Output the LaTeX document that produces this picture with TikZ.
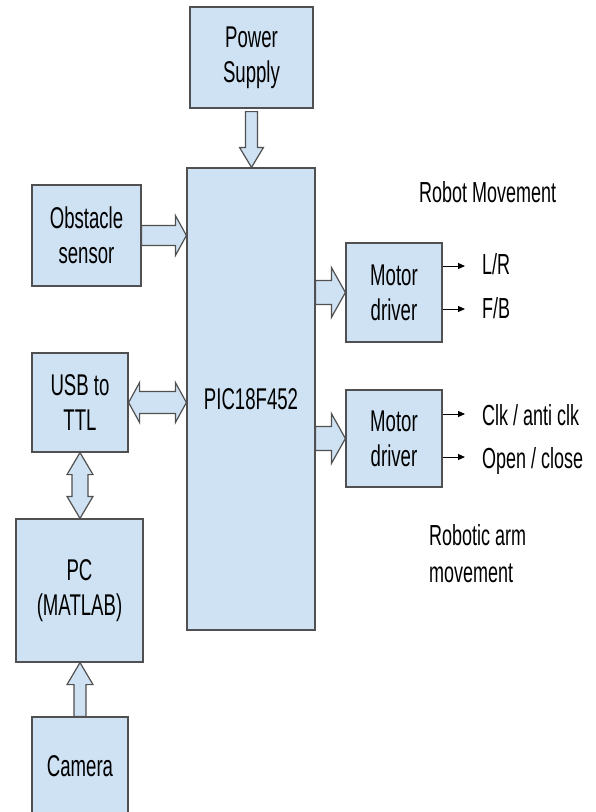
\documentclass[tikz,border=0pt]{standalone}
\usepackage{fontspec}
\setmainfont{Liberation Sans}[FakeStretch=0.62]
\usetikzlibrary{calc,arrows.meta}
\definecolor{boxfill}{HTML}{CFE2F3}
\definecolor{boxline}{HTML}{505050}
\tikzset{
  blockbox/.style={draw=boxline, fill=boxfill, line width=1.2pt, inner sep=0pt,
    align=center, font=\fontsize{30}{35}\selectfont},
  blockarrow/.style={draw=boxline, fill=boxfill, line width=1.2pt, line join=miter},
  lbl/.style={font=\fontsize{29}{37}\selectfont, inner sep=0pt, anchor=base west},
  thinarrow/.style={draw=black, line width=1pt, -{Triangle[length=7pt,width=6pt]}},
}
% right-pointing block arrow: start, end, shaft half, head half, head length
\newcommand\arrowR[5]{\draw[blockarrow] let \p1=#1, \p2=#2 in
  (\x1,\y1+#3) -- (\x2-#5,\y1+#3) -- (\x2-#5,\y1+#4) -- (\x2,\y1)
  -- (\x2-#5,\y1-#4) -- (\x2-#5,\y1-#3) -- (\x1,\y1-#3) -- cycle;}
% double horizontal block arrow
\newcommand\arrowLR[5]{\draw[blockarrow] let \p1=#1, \p2=#2 in
  (\x1,\y1) -- (\x1+#5,\y1+#4) -- (\x1+#5,\y1+#3) -- (\x2-#5,\y1+#3) -- (\x2-#5,\y1+#4)
  -- (\x2,\y1) -- (\x2-#5,\y1-#4) -- (\x2-#5,\y1-#3) -- (\x1+#5,\y1-#3) -- (\x1+#5,\y1-#4) -- cycle;}
% vertical block arrow, tip at end; #5 signed offset of head base from tip
\newcommand\arrowV[5]{\draw[blockarrow] let \p1=#1, \p2=#2 in
  (\x1+#3,\y1) -- (\x1+#3,\y2+#5) -- (\x1+#4,\y2+#5) -- (\x1,\y2)
  -- (\x1-#4,\y2+#5) -- (\x1-#3,\y2+#5) -- (\x1-#3,\y1) -- cycle;}
% double vertical block arrow, start above end
\newcommand\arrowUD[5]{\draw[blockarrow] let \p1=#1, \p2=#2 in
  (\x1,\y1) -- (\x1+#4,\y1-#5) -- (\x1+#3,\y1-#5) -- (\x1+#3,\y2+#5) -- (\x1+#4,\y2+#5)
  -- (\x1,\y2) -- (\x1-#4,\y2+#5) -- (\x1-#3,\y2+#5) -- (\x1-#3,\y1-#5) -- (\x1-#4,\y1-#5) -- cycle;}
\begin{document}
\begin{tikzpicture}[x=1pt,y=-1pt]
\useasboundingbox (0,0) rectangle (596,812);
\clip (0,0) rectangle (596,812);
\fill[white] (0,0) rectangle (596,812);

% boxes
\node[blockbox, minimum width=123pt, minimum height=101pt] (power) at (251.5,57.5) {Power\\Supply};
\node[blockbox, minimum width=128pt, minimum height=462pt] (pic) at (251,399) {PIC18F452};
\node[blockbox, minimum width=109pt, minimum height=101pt] (obs) at (86.5,235.5) {Obstacle\\sensor};
\node[blockbox, minimum width=96pt, minimum height=99pt] (usb) at (80,402.5) {USB to\\TTL};
\node[blockbox, minimum width=127pt, minimum height=143pt] (pc) at (79.5,590.5) {PC\\(MATLAB)};
\node[blockbox, minimum width=96pt, minimum height=98pt] (cam) at (80,766) {Camera};
\node[blockbox, minimum width=96pt, minimum height=99pt] (md1) at (394,292.5) {Motor\\driver};
\node[blockbox, minimum width=96pt, minimum height=97pt] (md2) at (394,438.5) {Motor\\driver};

% block arrows
\coordinate (pwS) at ([yshift=-3pt]power.south);
\arrowV{(pwS)}{(power.south |- pic.north)}{6pt}{12pt}{20pt}
\arrowR{(obs.east)}{(obs.east -| pic.west)}{10pt}{20pt}{11pt}
\arrowLR{(usb.east)}{(usb.east -| pic.west)}{11pt}{20pt}{11pt}
\arrowR{(pic.east |- md1.west)}{(md1.west)}{12pt}{25pt}{14pt}
\arrowR{(pic.east |- md2.west)}{(md2.west)}{12pt}{25pt}{14pt}
\arrowUD{(usb.south)}{(usb.south |- pc.north)}{8pt}{13pt}{22pt}
\arrowV{(cam.north)}{(cam.north |- pc.south)}{6pt}{13pt}{-22pt}

% labels
\node[lbl] (rm) at (419,202) {Robot Movement};
\node[lbl] (lr) at (482,274) {L/R};
\node[lbl] (fb) at (482,318) {F/B};
\node[lbl] (clk) at (482,425) {Clk / anti clk};
\node[lbl] (oc) at (482,468) {Open / close};
\node[lbl, align=left, anchor=north west] (ram) at (429,524) {Robotic arm\\movement};

% output arrows
\coordinate (lrA) at ($(lr.base west)+(-17,-8)$);
\coordinate (fbA) at ($(fb.base west)+(-17,-9)$);
\coordinate (clkA) at ($(clk.base west)+(-17,-11)$);
\coordinate (ocA) at ($(oc.base west)+(-17,-11)$);
\draw[thinarrow] (md1.east |- lrA) -- (lrA);
\draw[thinarrow] (md1.east |- fbA) -- (fbA);
\draw[thinarrow] (md2.east |- clkA) -- (clkA);
\draw[thinarrow] (md2.east |- ocA) -- (ocA);
\end{tikzpicture}
\end{document}
